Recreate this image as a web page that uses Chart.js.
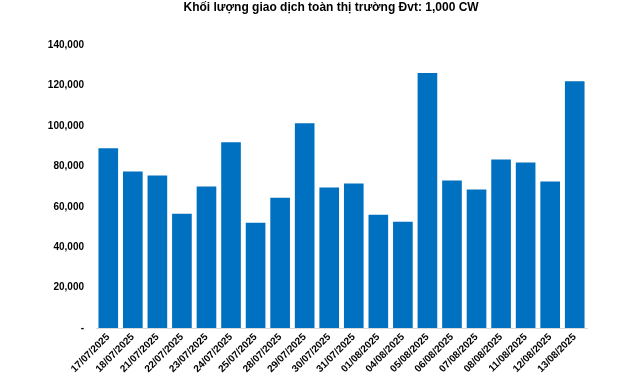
<!DOCTYPE html>
<html>
<head>
<meta charset="utf-8">
<script src="https://cdn.jsdelivr.net/npm/chart.js@4/dist/chart.umd.min.js"></script>
<style>
html,body{margin:0;padding:0;background:#fff;}
#wrap{width:641px;height:382px;position:relative;}
</style>
</head>
<body>
<div id="wrap"><canvas id="c" width="641" height="382"></canvas></div>
<script>
const titleText = "Khối lượng giao dịch toàn thị trường Đvt: 1,000 CW";
const categories = ["17/07/2025","18/07/2025","21/07/2025","22/07/2025","23/07/2025","24/07/2025","25/07/2025","28/07/2025","29/07/2025","30/07/2025","31/07/2025","01/08/2025","04/08/2025","05/08/2025","06/08/2025","07/08/2025","08/08/2025","11/08/2025","12/08/2025","13/08/2025"];
const volumes = [88900,77500,75500,56600,70000,91900,52100,64500,101300,69500,71500,56100,52600,126100,73000,68500,83400,81900,72500,122100];
const yTicks = [0,20000,40000,60000,80000,100000,120000,140000];

const fmt = v => v === 0 ? "-" : v.toLocaleString("en-US");
const FONT = "'Liberation Sans', Arial, sans-serif";

const titlePlugin = {
  id: "customTitle",
  afterDraw(chart) {
    const ctx = chart.ctx;
    ctx.save();
    ctx.font = "bold 12px " + FONT;
    ctx.fillStyle = "#000";
    ctx.textAlign = "center";
    ctx.textBaseline = "middle";
    ctx.fillText(titleText, chart.width * 0.5165, 8);
    ctx.restore();
  }
};

new Chart(document.getElementById("c"), {
  type: "bar",
  data: {
    labels: categories,
    datasets: [{
      data: volumes,
      backgroundColor: "#0070C0",
      borderWidth: 0,
      barPercentage: 0.8,
      categoryPercentage: 1.0
    }]
  },
  options: {
    responsive: false,
    animation: false,
    devicePixelRatio: 1,
    layout: { padding: { left: 48, right: 54, top: 45, bottom: 4 } },
    plugins: {
      legend: { display: false },
      tooltip: { enabled: false },
      title: { display: false }
    },
    scales: {
      x: {
        grid: { display: false, drawTicks: false },
        border: { display: true, color: "#D9D9D9", width: 1 },
        ticks: {
          color: "#000",
          font: { family: FONT, size: 10, weight: "bold" },
          maxRotation: 45, minRotation: 45, autoSkip: false, padding: 3
        }
      },
      y: {
        min: 0, max: 140000,
        afterFit: s => { s.width = 48; },
        afterBuildTicks: s => { s.ticks = yTicks.map(v => ({ value: v })); },
        grid: { display: false, drawTicks: false },
        border: { display: false },
        ticks: {
          color: "#000",
          font: { family: FONT, size: 10, weight: "bold" },
          padding: 12,
          callback: v => fmt(v)
        }
      }
    }
  },
  plugins: [titlePlugin]
});
</script>
</body>
</html>
